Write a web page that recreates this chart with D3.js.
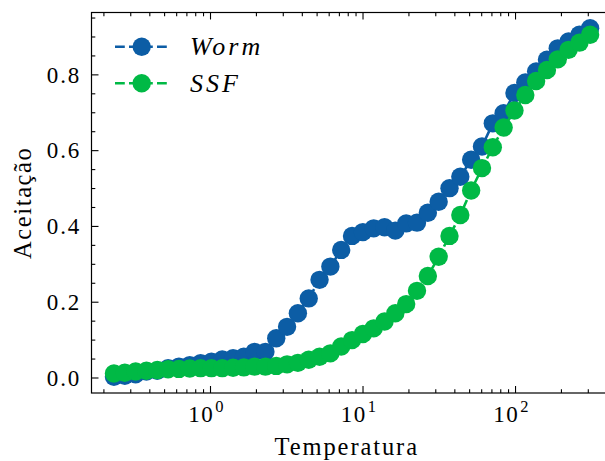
<!DOCTYPE html>
<html><head><meta charset="utf-8">
<script src="https://cdn.jsdelivr.net/npm/d3@7"></script>
<style>body{margin:0;background:#fff;overflow:hidden}</style>
</head><body><script>
const temperatures = [0.2328,0.2742,0.3228,0.3802,0.4477,0.5272,0.6209,0.7311,0.8610,1.014,
  1.194,1.406,1.654,1.945,2.291,2.698,3.177,3.741,4.406,5.188,
  6.109,7.194,8.472,9.977,11.75,13.84,16.29,19.19,22.59,26.61,
  31.33,36.90,43.45,51.17,60.26,70.96,83.56,98.40,115.9,136.5,
  160.7,189.2,222.8,262.4,308.3];
const worm = [0.003,0.006,0.010,0.017,0.019,0.026,0.030,0.034,0.039,0.043,
  0.049,0.052,0.056,0.069,0.069,0.105,0.135,0.171,0.210,0.259,
  0.294,0.338,0.375,0.385,0.395,0.398,0.389,0.408,0.410,0.436,
  0.465,0.501,0.531,0.576,0.611,0.672,0.699,0.752,0.780,0.809,
  0.840,0.870,0.888,0.906,0.923];
const ssf = [0.012,0.014,0.017,0.019,0.021,0.023,0.024,0.025,0.026,0.026,
  0.026,0.027,0.028,0.030,0.030,0.032,0.036,0.040,0.048,0.056,
  0.065,0.083,0.100,0.116,0.131,0.149,0.171,0.195,0.230,0.269,
  0.320,0.375,0.430,0.495,0.554,0.609,0.661,0.706,0.747,0.784,
  0.813,0.841,0.866,0.885,0.906];
const seriesNames = ["Worm", "SSF"];
const seriesColors = ["#0C5DA5", "#00B945"];
const xMajorTicks = [1, 10, 100];
const xTickExponents = ["0", "1", "2"];
const yMajorTicks = [0, 0.2, 0.4, 0.6, 0.8];
const yTickLabels = ["0.0", "0.2", "0.4", "0.6", "0.8"];
const xLabel = "Temperatura";
const yLabel = "Aceitação";

(function () {
const W = 605, H = 461;
const pL = 91.5, pT = 12.5, pR = 613.9, pB = 393;
const svg = d3.select("body").append("svg").attr("width", W).attr("height", H)
  .attr("font-family", "Liberation Serif, serif");

const x = d3.scaleLog().domain([Math.pow(10, -0.7803), Math.pow(10, 2.645)]).range([pL, pR]);
const y = d3.scaleLinear().domain([-0.0396, 0.9646]).range([pB, pT]);

svg.append("defs").append("clipPath").attr("id", "clip")
  .append("rect").attr("x", pL).attr("y", pT).attr("width", pR - pL).attr("height", pB - pT);

const xMinor = [];
[0.1, 1, 10, 100].forEach(d => { for (let k = 2; k <= 9; k++) { const v = d * k; if (v > x.domain()[0] && v < x.domain()[1]) xMinor.push(v); } });
const yMinor = d3.range(1, 20).map(i => i * 0.05).filter(v => Math.abs(v * 5 - Math.round(v * 5)) > 1e-6 && v < y.domain()[1]);

const g = svg.append("g").attr("stroke", "#000").attr("stroke-width", 1.1);
xMajorTicks.forEach(v => {
  g.append("line").attr("x1", x(v)).attr("x2", x(v)).attr("y1", pB).attr("y2", pB - 7);
  g.append("line").attr("x1", x(v)).attr("x2", x(v)).attr("y1", pT).attr("y2", pT + 7);
});
xMinor.forEach(v => {
  g.append("line").attr("x1", x(v)).attr("x2", x(v)).attr("y1", pB).attr("y2", pB - 3.8);
  g.append("line").attr("x1", x(v)).attr("x2", x(v)).attr("y1", pT).attr("y2", pT + 3.8);
});
yMajorTicks.forEach(v => {
  g.append("line").attr("x1", pL).attr("x2", pL + 7).attr("y1", y(v)).attr("y2", y(v));
  g.append("line").attr("x1", pR).attr("x2", pR - 7).attr("y1", y(v)).attr("y2", y(v));
});
yMinor.forEach(v => {
  g.append("line").attr("x1", pL).attr("x2", pL + 3.8).attr("y1", y(v)).attr("y2", y(v));
  g.append("line").attr("x1", pR).attr("x2", pR - 3.8).attr("y1", y(v)).attr("y2", y(v));
});

xMajorTicks.forEach((v, i) => {
  const t = svg.append("text").attr("x", x(v) - 4).attr("y", pB + 29).attr("text-anchor", "middle")
    .attr("font-size", 23).attr("letter-spacing", 1.5);
  t.append("tspan").text("10");
  t.append("tspan").attr("dy", -10).attr("dx", 1).attr("font-size", 16.5).text(xTickExponents[i]);
});
yMajorTicks.forEach((v, i) => {
  svg.append("text").attr("x", pL - 10.5).attr("y", y(v) + 7.8).attr("text-anchor", "end")
    .attr("font-size", 23).attr("letter-spacing", 1.8).text(yTickLabels[i]);
});

svg.append("text").attr("x", (pL + 614) / 2 - 6).attr("y", 455).attr("text-anchor", "middle")
  .attr("font-size", 24.5).attr("letter-spacing", 1.9).text(xLabel);
svg.append("text").attr("transform", `translate(31,${(pT + pB) / 2}) rotate(-90)`)
  .attr("text-anchor", "middle").attr("font-size", 24.5).attr("letter-spacing", 1.6).text(yLabel);

const dataG = svg.append("g").attr("clip-path", "url(#clip)");
const line = d3.line().x(d => x(d[0])).y(d => y(d[1]));
[worm, ssf].forEach((vals, si) => {
  const pts = temperatures.map((t, i) => [t, vals[i]]);
  dataG.append("path").attr("d", line(pts)).attr("fill", "none")
    .attr("stroke", seriesColors[si]).attr("stroke-width", 2.6).attr("stroke-dasharray", "9.8,4.2");
  dataG.selectAll(null).data(pts).enter().append("circle")
    .attr("cx", d => x(d[0])).attr("cy", d => y(d[1])).attr("r", 9.2)
    .attr("fill", seriesColors[si]);
});

svg.append("rect").attr("x", pL).attr("y", pT).attr("width", pR - pL).attr("height", pB - pT)
  .attr("fill", "none").attr("stroke", "#000").attr("stroke-width", 1.2);

const legRows = [46.7, 83.3];
seriesNames.forEach((name, i) => {
  const lg = svg.append("g");
  lg.append("line").attr("x1", 115).attr("x2", 168).attr("y1", legRows[i]).attr("y2", legRows[i])
    .attr("stroke", seriesColors[i]).attr("stroke-width", 2.6).attr("stroke-dasharray", "9.8,4.2");
  lg.append("circle").attr("cx", 141.7).attr("cy", legRows[i]).attr("r", 9.2).attr("fill", seriesColors[i]);
  lg.append("text").attr("x", 190).attr("y", legRows[i] + 8.5).attr("font-size", 26)
    .attr("font-style", "italic").attr("letter-spacing", 3).text(name);
});
})();
</script></body></html>
